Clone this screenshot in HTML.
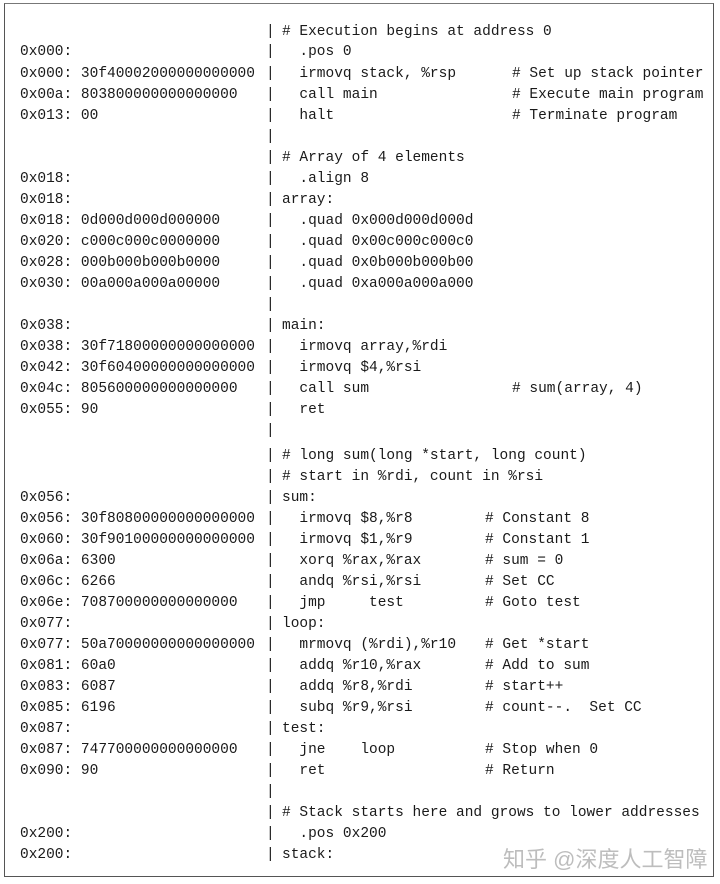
<!DOCTYPE html>
<html><head><meta charset="utf-8"><style>
html,body{margin:0;padding:0;background:#fff;}
body{width:720px;height:884px;position:relative;overflow:hidden;font-family:"Liberation Mono",monospace;font-size:14.5px;color:#1a1a1a;}
.f{position:absolute;left:4px;top:3px;width:710px;height:874px;border:1px solid #555;box-sizing:border-box;border-top-color:#777;}
.l{position:absolute;white-space:pre;line-height:18px;height:18px;}
.w{position:absolute;left:503px;top:842px;font-family:"Liberation Sans","Noto Sans CJK SC",sans-serif;font-size:22px;color:#bdbdbd;white-space:pre;}
</style></head><body>
<div class="f"></div>
<div id="c"></div>
<div class="w">知乎 @深度人工智障</div>
<script>
var L=[
[30,"","|","# Execution begins at address 0",""],
[50,"0x000:","|","  .pos 0",""],
[72,"0x000: 30f40002000000000000","|","  irmovq stack, %rsp","# Set up stack pointer",512],
[93,"0x00a: 803800000000000000","|","  call main","# Execute main program",512],
[114,"0x013: 00","|","  halt","# Terminate program",512],
[135,"","|","",""],
[156,"","|","# Array of 4 elements",""],
[177,"0x018:","|","  .align 8",""],
[198,"0x018:","|","array:",""],
[219,"0x018: 0d000d000d000000","|","  .quad 0x000d000d000d",""],
[240,"0x020: c000c000c0000000","|","  .quad 0x00c000c000c0",""],
[261,"0x028: 000b000b000b0000","|","  .quad 0x0b000b000b00",""],
[282,"0x030: 00a000a000a00000","|","  .quad 0xa000a000a000",""],
[303,"","|","",""],
[324,"0x038:","|","main:",""],
[345,"0x038: 30f71800000000000000","|","  irmovq array,%rdi",""],
[366,"0x042: 30f60400000000000000","|","  irmovq $4,%rsi",""],
[387,"0x04c: 805600000000000000","|","  call sum","# sum(array, 4)",512],
[408,"0x055: 90","|","  ret",""],
[429,"","|","",""],
[454,"","|","# long sum(long *start, long count)",""],
[475,"","|","# start in %rdi, count in %rsi",""],
[496,"0x056:","|","sum:",""],
[517,"0x056: 30f80800000000000000","|","  irmovq $8,%r8","# Constant 8",485],
[538,"0x060: 30f90100000000000000","|","  irmovq $1,%r9","# Constant 1",485],
[559,"0x06a: 6300","|","  xorq %rax,%rax","# sum = 0",485],
[580,"0x06c: 6266","|","  andq %rsi,%rsi","# Set CC",485],
[601,"0x06e: 708700000000000000","|","  jmp     test","# Goto test",485],
[622,"0x077:","|","loop:",""],
[643,"0x077: 50a70000000000000000","|","  mrmovq (%rdi),%r10","# Get *start",485],
[664,"0x081: 60a0","|","  addq %r10,%rax","# Add to sum",485],
[685,"0x083: 6087","|","  addq %r8,%rdi","# start++",485],
[706,"0x085: 6196","|","  subq %r9,%rsi","# count--.  Set CC",485],
[727,"0x087:","|","test:",""],
[748,"0x087: 747700000000000000","|","  jne    loop","# Stop when 0",485],
[769,"0x090: 90","|","  ret","# Return",485],
[790,"","|","",""],
[811,"","|","# Stack starts here and grows to lower addresses",""],
[832,"0x200:","|","  .pos 0x200",""],
[853,"0x200:","|","stack:",""]
];
var h="";
L.forEach(function(r){
 var t=r[0]-7;
 if(r[1])h+='<div class="l" style="left:20px;top:'+t+'px">'+r[1]+'</div>';
 h+='<div class="l" style="left:266px;top:'+t+'px">|</div>';
 if(r[3])h+='<div class="l" style="left:282px;top:'+t+'px">'+r[3]+'</div>';
 if(r[4])h+='<div class="l" style="left:'+r[5]+'px;top:'+t+'px">'+r[4]+'</div>';
});
document.getElementById("c").innerHTML=h;
</script>
</body></html>
